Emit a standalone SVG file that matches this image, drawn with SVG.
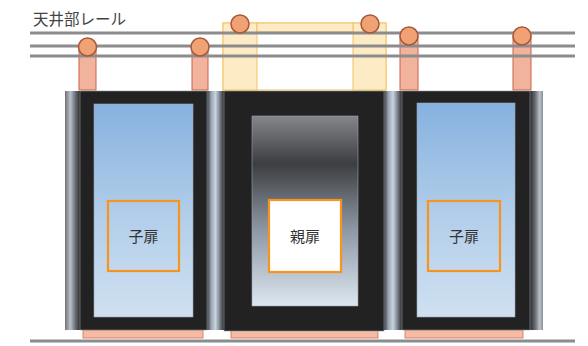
<svg xmlns="http://www.w3.org/2000/svg" width="588" height="346" viewBox="0 0 588 346">
  <defs>
    <linearGradient id="glassBlue" x1="0" y1="0" x2="0" y2="1">
      <stop offset="0" stop-color="#86b1df"/>
      <stop offset="0.55" stop-color="#b4cfea"/>
      <stop offset="1" stop-color="#cfe0f1"/>
    </linearGradient>
    <linearGradient id="glassGrey" x1="0" y1="0" x2="0" y2="1">
      <stop offset="0" stop-color="#85868a"/>
      <stop offset="0.25" stop-color="#3c3e41"/>
      <stop offset="0.6" stop-color="#8e98a4"/>
      <stop offset="1" stop-color="#dde7f2"/>
    </linearGradient>
    <linearGradient id="postMid" x1="0" y1="0" x2="1" y2="0">
      <stop offset="0" stop-color="#3a3a3c"/>
      <stop offset="0.25" stop-color="#9aa6b4"/>
      <stop offset="0.5" stop-color="#c8d3de"/>
      <stop offset="0.75" stop-color="#7c838c"/>
      <stop offset="1" stop-color="#2a2a2c"/>
    </linearGradient>
    <linearGradient id="postLeft" x1="0" y1="0" x2="1" y2="0">
      <stop offset="0" stop-color="#6e7074"/>
      <stop offset="0.35" stop-color="#b9c2cc"/>
      <stop offset="0.7" stop-color="#6a6d72"/>
      <stop offset="1" stop-color="#2a2a2c"/>
    </linearGradient>
    <linearGradient id="postRight" x1="0" y1="0" x2="1" y2="0">
      <stop offset="0" stop-color="#2a2a2c"/>
      <stop offset="0.4" stop-color="#6a6d72"/>
      <stop offset="0.75" stop-color="#b9c2cc"/>
      <stop offset="1" stop-color="#8a8d92"/>
    </linearGradient>
  </defs>
  <style>
    .rail { stroke: #8c8c8c; stroke-width: 3; fill: none; }
    .stem { fill: #f2b39c; stroke: #c8634c; stroke-width: 1; }
    .ball { fill: #f0a274; stroke: #a9573a; stroke-width: 1.5; }
    .guide { fill: #fdebc6; stroke: #f2c162; stroke-width: 1; }
    .frame { fill: #222222; stroke: #8d96a0; stroke-width: 0.6; }
    .sill { fill: #f6bba3; stroke: #d46a55; stroke-width: 0.8; }
    .tag { fill: none; stroke: #f7941d; stroke-width: 2.2; }
    .tag-solid { fill: #ffffff; stroke: #f7941d; stroke-width: 2.2; }
    .label { font-family: "Noto Sans CJK JP", "Noto Sans", sans-serif; font-size: 15px; fill: #333333; text-anchor: middle; }
    .caption { font-family: "Noto Sans CJK JP", "Noto Sans", sans-serif; font-size: 15.5px; fill: #444444; }
  </style>

  <rect width="588" height="346" fill="#ffffff"/>

  <text class="caption" x="33" y="25">天井部レール</text>

  <!-- hanger guides of the main door -->
  <g id="guide-center">
    <rect x="223" y="23" width="163" height="67" fill="none" stroke="#f2c162" stroke-width="1"/>
    <rect class="guide" x="223" y="23" width="34" height="67"/>
    <rect class="guide" x="353" y="23" width="33" height="67"/>
    <rect class="guide" x="257" y="23" width="96" height="9"/>
  </g>

  <!-- hanger stems -->
  <g id="stems">
    <rect class="stem" x="79" y="47" width="17" height="43"/>
    <rect class="stem" x="192" y="47" width="16" height="43"/>
    <rect class="stem" x="400" y="36" width="18" height="54"/>
    <rect class="stem" x="513" y="36" width="18" height="54"/>
  </g>

  <!-- ceiling rails and floor line -->
  <g id="rails">
    <line class="rail" x1="30" y1="33" x2="575" y2="33"/>
    <line class="rail" x1="30" y1="46" x2="575" y2="46"/>
    <line class="rail" x1="30" y1="56" x2="575" y2="56"/>
    <line class="rail" x1="30" y1="341" x2="575" y2="341"/>
  </g>

  <!-- rollers -->
  <g id="rollers">
    <circle class="ball" cx="87.5" cy="47" r="9"/>
    <circle class="ball" cx="200" cy="47" r="9"/>
    <circle class="ball" cx="240" cy="24" r="9"/>
    <circle class="ball" cx="370" cy="24" r="9"/>
    <circle class="ball" cx="409" cy="36" r="9"/>
    <circle class="ball" cx="522" cy="36" r="9"/>
  </g>

  <!-- floor sills -->
  <g id="sills">
    <rect class="sill" x="83" y="330" width="120" height="8"/>
    <rect class="sill" x="231" y="330" width="147" height="8"/>
    <rect class="sill" x="405" y="330" width="118" height="8"/>
  </g>

  <!-- side posts -->
  <g id="posts">
    <rect x="65" y="91" width="15" height="239" fill="url(#postLeft)"/>
    <rect x="207" y="91" width="17" height="239" fill="url(#postMid)"/>
    <rect x="384" y="91" width="18" height="239" fill="url(#postMid)"/>
    <rect x="530" y="91" width="13" height="239" fill="url(#postRight)"/>
  </g>

  <g id="door-left">
    <rect class="frame" x="80" y="91" width="127" height="239"/>
    <rect x="94" y="104" width="99" height="213" fill="url(#glassBlue)" stroke="#9aa8b6" stroke-width="0.6"/>
    <rect class="tag" x="108" y="201" width="71" height="70"/>
    <text class="label" x="143.5" y="242">子扉</text>
  </g>

  <g id="door-center">
    <rect class="frame" x="224" y="91" width="160" height="240"/>
    <rect x="252" y="116" width="106" height="190" fill="url(#glassGrey)" stroke="#9aa2ac" stroke-width="0.6"/>
    <rect class="tag-solid" x="269" y="200" width="72" height="72"/>
    <text class="label" x="305" y="242">親扉</text>
  </g>

  <g id="door-right">
    <rect class="frame" x="402" y="91" width="128" height="239"/>
    <rect x="417" y="103" width="98" height="214" fill="url(#glassBlue)" stroke="#9aa8b6" stroke-width="0.6"/>
    <rect class="tag" x="428" y="201" width="72" height="70"/>
    <text class="label" x="464" y="242">子扉</text>
  </g>
</svg>
